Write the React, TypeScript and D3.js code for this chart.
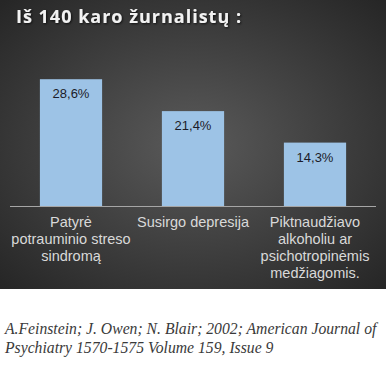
import { useEffect, useRef } from 'react';
import * as d3 from 'd3';

const categories = ['c1', 'c2', 'c3'];
const categoryLines = [
  ['Patyrė', 'potrauminio streso', 'sindromą'],
  ['Susirgo depresija'],
  ['Piktnaudžiavo', 'alkoholiu ar', 'psichotropinėmis', 'medžiagomis.'],
];
const values = [28.6, 21.4, 14.3];
const valueLabels = ['28,6%', '21,4%', '14,3%'];
const title = 'Iš 140 karo žurnalistų :';
const citation = [
  'A.Feinstein; J. Owen; N. Blair; 2002; American Journal of',
  'Psychiatry 1570-1575 Volume 159, Issue 9',
];

export default function App() {
  const ref = useRef<SVGSVGElement | null>(null);

  useEffect(() => {
    const W = 386;
    const H = 366;
    const panelH = 289;
    const svg = d3.select(ref.current);
    svg.selectAll('*').remove();
    svg.attr('width', W).attr('height', H);

    const defs = svg.append('defs');
    const grad = defs
      .append('radialGradient')
      .attr('id', 'bg')
      .attr('cx', '50%')
      .attr('cy', '50%')
      .attr('r', '70%');
    grad.append('stop').attr('offset', '0%').attr('stop-color', '#5a5a5a');
    grad.append('stop').attr('offset', '100%').attr('stop-color', '#262626');

    const shadow = defs.append('filter').attr('id', 'sh');
    shadow
      .append('feDropShadow')
      .attr('dx', 1)
      .attr('dy', 1)
      .attr('stdDeviation', 0.8)
      .attr('flood-color', '#000')
      .attr('flood-opacity', 0.7);

    svg.append('rect').attr('width', W).attr('height', H).attr('fill', '#fff');
    svg
      .append('rect')
      .attr('width', W)
      .attr('height', panelH)
      .attr('fill', 'url(#bg)');

    // title
    svg
      .append('text')
      .attr('x', 16)
      .attr('y', 23)
      .attr('fill', '#f2f2f2')
      .attr('filter', 'url(#sh)')
      .style('font-family', '"Open Sans", sans-serif')
      .style('font-weight', 'bold')
      .style('font-size', '18px')
      .style('letter-spacing', '1px')
      .text(title);

    const x = d3
      .scaleBand()
      .domain(categories)
      .range([10, 376])
      .paddingInner(0.49)
      .paddingOuter(0.245);
    const y = d3.scaleLinear().domain([0, 30]).range([206, 73]);

    svg
      .selectAll('rect.bar')
      .data(values)
      .enter()
      .append('rect')
      .attr('class', 'bar')
      .attr('x', (_d, i) => x(categories[i])!)
      .attr('y', (d) => y(d))
      .attr('width', x.bandwidth())
      .attr('height', (d) => y(0) - y(d))
      .attr('fill', '#9dc3e6');

    svg
      .selectAll('text.val')
      .data(values)
      .enter()
      .append('text')
      .attr('class', 'val')
      .attr('x', (_d, i) => x(categories[i])! + x.bandwidth() / 2)
      .attr('y', (d) => y(d) + 19)
      .attr('text-anchor', 'middle')
      .attr('fill', '#1c1c28')
      .style('font-family', '"Liberation Sans", Arial, sans-serif')
      .style('font-size', '13px')
      .text((_d, i) => valueLabels[i]);

    // axis line
    svg
      .append('line')
      .attr('x1', 10)
      .attr('x2', 376)
      .attr('y1', y(0) + 0.5)
      .attr('y2', y(0) + 0.5)
      .attr('stroke', '#a6a6a6')
      .attr('stroke-width', 1);

    categoryLines.forEach((lines, i) => {
      const t = svg
        .append('text')
        .attr('text-anchor', 'middle')
        .attr('fill', '#d9d9d9')
        .style('font-family', '"Liberation Sans", Arial, sans-serif')
        .style('font-size', '14.5px');
      lines.forEach((ln, j) => {
        t.append('tspan')
          .attr('x', x(categories[i])! + x.bandwidth() / 2)
          .attr('y', 227 + j * 17)
          .text(ln);
      });
    });

    citation.forEach((ln, j) => {
      svg
        .append('text')
        .attr('x', 5)
        .attr('y', 334 + j * 19)
        .attr('fill', '#3a3a3a')
        .style('font-family', '"Liberation Serif", "Times New Roman", serif')
        .style('font-style', 'italic')
        .style('font-size', '15.7px')
        .text(ln);
    });
  }, []);

  return (
    <div style={{ position: 'absolute', left: 0, top: 0 }}>
      <svg ref={ref} style={{ display: 'block' }} />
    </div>
  );
}
